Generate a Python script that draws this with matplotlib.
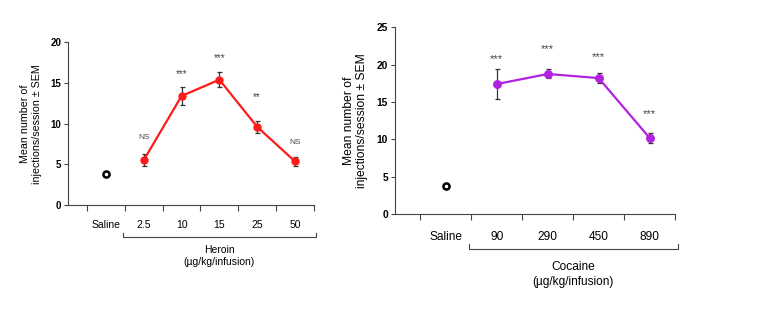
import matplotlib
matplotlib.use("Agg")
import matplotlib.pyplot as plt

plt.rcParams['font.family'] = ['Liberation Sans', 'DejaVu Sans']

# Heroin panel
her_labels = ["Saline", "2.5", "10", "15", "25", "50"]
her_saline = 3.85
her_means = [5.5, 13.4, 15.4, 9.6, 5.35]
her_sem = [0.75, 1.1, 0.9, 0.75, 0.5]
her_sig = ["NS", "***", "***", "**", "NS"]
her_sig_y = [8.5, 16.4, 18.4, 13.6, 7.9]
her_yticks = [0, 5, 10, 15, 20]

# Cocaine panel
coc_labels = ["Saline", "90", "290", "450", "890"]
coc_saline = 3.8
coc_means = [17.4, 18.75, 18.2, 10.2]
coc_sem = [2.0, 0.6, 0.65, 0.7]
coc_sig = ["***", "***", "***", "***"]
coc_sig_y = [21.2, 22.5, 21.5, 13.8]
coc_yticks = [0, 5, 10, 15, 20, 25]

fig = plt.figure(figsize=(7.63, 3.26), dpi=100)


def panel(rect, labels, saline, means, sem, sig, sig_y, yticks, ymax, color,
          fs_tick, fs_lab, fs_ylab, fs_star, fs_ns, drug, brk_y, name_y, unit_y, ms):
    ax = fig.add_axes(rect)
    n = len(labels)
    xs = list(range(1, n))
    ax.errorbar(xs, means, yerr=sem, fmt='none', ecolor='#333333', elinewidth=0.9,
                capsize=1.8, capthick=0.9, zorder=2)
    ax.plot(xs, means, '-', color=color, lw=1.6, zorder=3)
    ax.plot(xs, means, 'o', color=color, ms=ms, zorder=4)
    ax.plot([0], [saline], 'o', mfc='white', mec='black', mew=1.8, ms=4.4, zorder=4)
    for x, s, y in zip(xs, sig, sig_y):
        if s.startswith('*'):
            fs = fs_star
            off = -0.58 * fs
        else:
            fs = fs_ns
            off = -0.36 * fs
        ax.annotate(s, (x, y), xytext=(0, off), textcoords='offset points',
                    ha='center', va='baseline', fontsize=fs, color='#444444')
    ax.set_xlim(-1, n - 0.5)
    ax.set_ylim(0, ymax)
    ax.set_yticks(yticks)
    ax.set_yticklabels([str(v) for v in yticks], fontweight='bold', fontsize=fs_tick)
    ax.set_xticks([i - 0.5 for i in range(n + 1)])
    ax.set_xticklabels([])
    ax.tick_params(axis='x', length=4, width=0.8, color='#444444', direction='out')
    ax.tick_params(axis='y', length=3, width=0.8, color='#444444', pad=2)
    for i, lab in enumerate(labels):
        ax.text(i, -0.09 * ymax, lab, ha='center', va='top', fontsize=fs_lab,
                transform=ax.transData, clip_on=False)
    for sp in ['top', 'right']:
        ax.spines[sp].set_visible(False)
    for sp in ['left', 'bottom']:
        ax.spines[sp].set_color('#444444')
        ax.spines[sp].set_linewidth(0.8)
    ax.set_ylabel("Mean number of\ninjections/session \u00b1 SEM", fontsize=fs_ylab, labelpad=6)
    # bracket
    trans = ax.get_xaxis_transform()
    ax.plot([0.45, 0.45, n - 0.45, n - 0.45], [brk_y + 0.025, brk_y, brk_y, brk_y + 0.025],
            color='#444444', lw=0.8, transform=trans, clip_on=False)
    xc = (0.5 + n - 0.5) / 2
    ax.text(xc, name_y, drug, ha='center', va='center', fontsize=fs_lab, transform=trans)
    ax.text(xc, unit_y, "(\u00b5g/kg/infusion)", ha='center', va='center', fontsize=fs_lab,
            transform=trans)
    return ax


panel([68 / 763, 1 - 205 / 326, (314 - 68) / 763, (205 - 42.3) / 326],
      her_labels, her_saline, her_means, her_sem, her_sig, her_sig_y, her_yticks, 20,
      '#FF1A1A', 7.0, 7.5, 7.7, 7.2, 6.0, "Heroin",
      -(236.7 - 205) / 162.7, -(250 - 205) / 162.7, -(262 - 205) / 162.7, 5.0)

panel([395 / 763, 1 - 214 / 326, (675 - 395) / 763, (214 - 27.3) / 326],
      coc_labels, coc_saline, coc_means, coc_sem, coc_sig, coc_sig_y, coc_yticks, 25,
      '#B022E0', 7.4, 8.6, 8.7, 8.0, 6.5, "Cocaine",
      -(249 - 214) / 186.7, -(267 - 214) / 186.7, -(281.6 - 214) / 186.7, 5.4)

fig.savefig("out.png", dpi=100)
